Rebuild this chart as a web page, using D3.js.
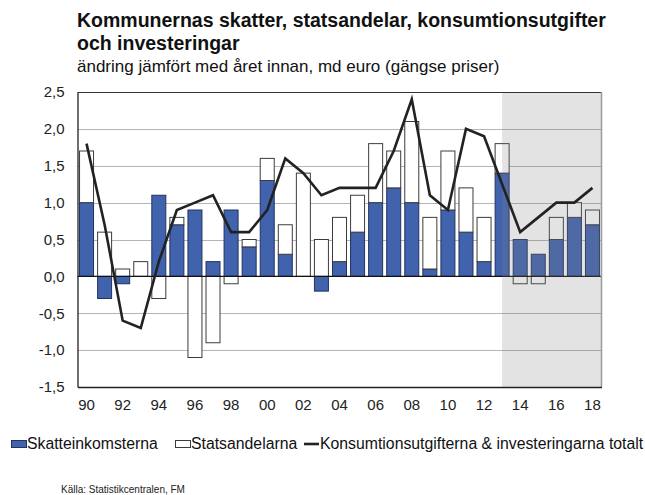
<!DOCTYPE html>
<html>
<head>
<meta charset="utf-8">
<script src="https://cdn.jsdelivr.net/npm/d3@7"></script>
<style>
  html, body { margin: 0; padding: 0; background: #fff; }
  svg { display: block; font-family: "Liberation Sans", Arial, sans-serif; }
</style>
</head>
<body>
<svg id="chart" width="645" height="495"></svg>
<script>
// Years on the category axis
const years = d3.range(1990, 2019);
// Change in municipal tax revenue, bn EUR
const skatteinkomsterna = [1.0, -0.3, -0.1, 0.0, 1.1, 0.7, 0.9, 0.2, 0.9, 0.4,
  1.3, 0.3, 0.0, -0.2, 0.2, 0.6, 1.0, 1.2, 1.0, 0.1,
  0.9, 0.6, 0.2, 1.4, 0.5, 0.3, 0.5, 0.8, 0.7];
// Change in central government transfers, bn EUR
const statsandelarna = [0.7, 0.6, 0.1, 0.2, -0.3, 0.1, -1.1, -0.9, -0.1, 0.1,
  0.3, 0.4, 1.4, 0.5, 0.6, 0.5, 0.8, 0.5, 1.1, 0.7,
  0.8, 0.6, 0.6, 0.4, -0.1, -0.1, 0.3, 0.2, 0.2];
// Change in consumption expenditure and investment, total
const totalt = [1.8, 0.7, -0.6, -0.7, 0.2, 0.9, 1.0, 1.1, 0.6, 0.6,
  0.9, 1.6, 1.4, 1.1, 1.2, 1.2, 1.2, 1.7, 2.4, 1.1,
  0.9, 2.0, 1.9, 1.25, 0.6, 0.8, 1.0, 1.0, 1.2];
const yTicks = [-1.5, -1.0, -0.5, 0.0, 0.5, 1.0, 1.5, 2.0, 2.5];
const forecastFrom = 2013; // shaded from mid-2013 onwards

const svg = d3.select("#chart");
const pl = 77.5, pr = 601.5, pt = 92, pb = 387;

const x = d3.scaleBand().domain(years).range([pl, pr])
  .paddingInner(0.17).paddingOuter(0.085);
const y = d3.scaleLinear().domain([-1.5, 2.5]).range([pb, pt]);

const locale = d3.formatLocale({decimal: ",", thousands: " ", grouping: [3], currency: ["", "€"], minus: "-"});
const fmt = locale.format(".1f");

// Horizontal gridlines
svg.append("g").selectAll("line")
  .data(yTicks.filter(v => v !== 0 && v !== 2.5 && v !== -1.5))
  .join("line")
  .attr("x1", pl).attr("x2", pr)
  .attr("y1", d => Math.round(y(d)) + 0.5).attr("y2", d => Math.round(y(d)) + 0.5)
  .attr("stroke", "#b4b4b4").attr("stroke-width", 1);

// Diverging stack of the two revenue components
const table = years.map((yr, i) => ({year: yr, sk: skatteinkomsterna[i], st: statsandelarna[i]}));
const stack = d3.stack().keys(["sk", "st"]).offset(d3.stackOffsetDiverging);
const series = stack(table);
const fills = {sk: "#4163ae", st: "#ffffff"};
const strokes = {sk: "#23325e", st: "#3c3c3c"};

svg.append("g").selectAll("g")
  .data(series)
  .join("g")
  .attr("fill", s => fills[s.key])
  .attr("stroke", s => strokes[s.key])
  .attr("stroke-width", 1)
  .selectAll("rect")
  .data(s => s.filter(d => d[1] !== d[0]))
  .join("rect")
  .attr("x", d => x(d.data.year) + 0.5)
  .attr("width", x.bandwidth() - 1)
  .attr("y", d => y(Math.max(d[0], d[1])))
  .attr("height", d => Math.abs(y(d[0]) - y(d[1])));

// Zero line
svg.append("line")
  .attr("x1", pl).attr("x2", pr)
  .attr("y1", y(0)).attr("y2", y(0))
  .attr("stroke", "#111").attr("stroke-width", 1.3);

// Forecast shading
const shadeX = x(forecastFrom) + x.bandwidth() / 2;
svg.append("rect")
  .attr("x", shadeX).attr("y", pt)
  .attr("width", pr - shadeX).attr("height", pb - pt)
  .attr("fill", "rgb(128,128,128)").attr("fill-opacity", 0.22);

// Frame: top and right borders
svg.append("line").attr("x1", pl).attr("x2", pr).attr("y1", pt + 0.5).attr("y2", pt + 0.5)
  .attr("stroke", "#333").attr("stroke-width", 1);
svg.append("line").attr("x1", pr).attr("x2", pr).attr("y1", pt).attr("y2", pb)
  .attr("stroke", "#9a9a9a").attr("stroke-width", 1.5);

// Y axis
const yAxis = svg.append("g")
  .attr("transform", `translate(${pl},0)`)
  .call(d3.axisLeft(y).tickValues(yTicks).tickFormat(fmt).tickSize(0).tickPadding(13));
yAxis.select(".domain").attr("stroke", "#222").attr("stroke-width", 1.3);
yAxis.selectAll("text").attr("font-size", 15).attr("fill", "#222")
  .attr("font-family", "Liberation Sans, Arial, sans-serif");

// X axis
const xAxis = svg.append("g")
  .attr("transform", `translate(0,${pb})`)
  .call(d3.axisBottom(x).tickValues(years.filter(v => v % 2 === 0))
    .tickFormat(v => String(v).slice(2)).tickSize(0).tickPadding(12));
xAxis.select(".domain").attr("stroke", "#222").attr("stroke-width", 1.3);
xAxis.selectAll("text").attr("font-size", 15).attr("fill", "#222")
  .attr("font-family", "Liberation Sans, Arial, sans-serif");

// Total line
const line = d3.line()
  .x((d, i) => x(years[i]) + x.bandwidth() / 2)
  .y(d => y(d));
svg.append("path")
  .datum(totalt)
  .attr("d", line)
  .attr("fill", "none")
  .attr("stroke", "#222")
  .attr("stroke-width", 2.6)
  .attr("stroke-linejoin", "miter");

// Titles
svg.append("text").attr("x", 77).attr("y", 27)
  .attr("font-size", 19.5).attr("font-weight", "bold").attr("fill", "#111")
  .text("Kommunernas skatter, statsandelar, konsumtionsutgifter");
svg.append("text").attr("x", 77).attr("y", 50)
  .attr("font-size", 19.5).attr("font-weight", "bold").attr("fill", "#111")
  .text("och investeringar");
svg.append("text").attr("x", 77).attr("y", 72)
  .attr("font-size", 17).attr("fill", "#111")
  .text("ändring jämfört med året innan, md euro (gängse priser)");

// Legend
const legendItems = [
  {label: "Skatteinkomsterna", type: "rect", fill: "#4163ae", stroke: "#23325e", x: 11},
  {label: "Statsandelarna", type: "rect", fill: "#fff", stroke: "#3c3c3c", x: 175},
  {label: "Konsumtionsutgifterna & investeringarna totalt", type: "line", x: 304}
];
const lg = svg.append("g").selectAll("g").data(legendItems).join("g")
  .attr("transform", d => `translate(${d.x},443)`);
lg.filter(d => d.type === "rect").append("rect")
  .attr("x", 0.5).attr("y", -2.5).attr("width", 15).attr("height", 7)
  .attr("fill", d => d.fill).attr("stroke", d => d.stroke);
lg.filter(d => d.type === "line").append("line")
  .attr("x1", 0).attr("x2", 15).attr("y1", 1).attr("y2", 1)
  .attr("stroke", "#222").attr("stroke-width", 2.6);
lg.append("text").attr("x", 16).attr("y", 6)
  .attr("font-size", 15.8).attr("fill", "#111")
  .text(d => d.label);

// Source
svg.append("text").attr("x", 61).attr("y", 493)
  .attr("font-size", 10).attr("fill", "#222")
  .text("Källa: Statistikcentralen, FM");
</script>
</body>
</html>
